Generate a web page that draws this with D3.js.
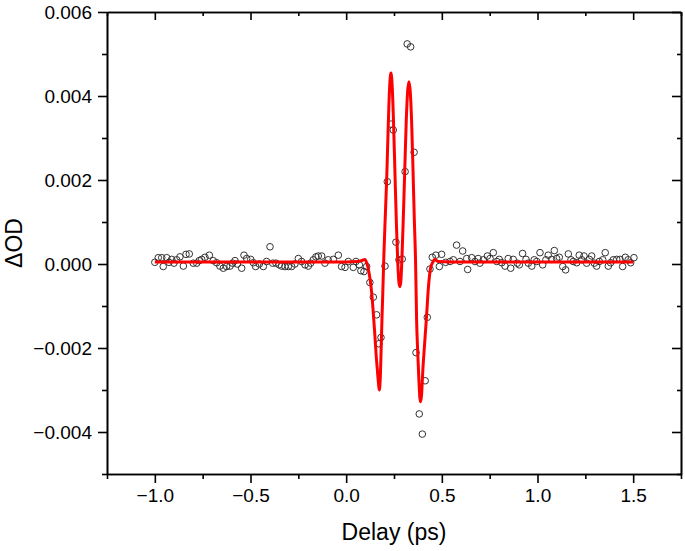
<!DOCTYPE html>
<html>
<head>
<meta charset="utf-8">
<script src="https://cdn.jsdelivr.net/npm/d3@7"></script>
<style>
  body { margin: 0; background: #fff; }
  svg { display: block; }
  .tick text { font-family: "Liberation Sans", Arial, sans-serif; }
</style>
</head>
<body>
<svg id="chart" width="685" height="551"></svg>
<script>
// measured delay points (ps) and dOD values
const delayData = [
  -1.000, -0.982, -0.964, -0.956, -0.938, -0.926, -0.912, -0.900, -0.886, -0.869,
  -0.851, -0.837, -0.820, -0.799, -0.781, -0.768, -0.755, -0.738, -0.715, -0.695,
  -0.677, -0.660, -0.642, -0.625, -0.607, -0.593, -0.581, -0.569, -0.546, -0.534,
  -0.520, -0.499, -0.485, -0.473, -0.454, -0.433, -0.416, -0.398, -0.384, -0.367,
  -0.350, -0.337, -0.320, -0.302, -0.285, -0.268, -0.250, -0.233, -0.215, -0.198,
  -0.186, -0.172, -0.158, -0.146, -0.128, -0.111, -0.094, -0.067, -0.041, -0.024,
  -0.006, 0.011, 0.037, 0.051, 0.069, 0.077, 0.093, 0.107, 0.124, 0.142,
  0.159, 0.171, 0.182, 0.203, 0.215, 0.234, 0.246, 0.260, 0.276, 0.293,
  0.308, 0.319, 0.337, 0.355, 0.365, 0.382, 0.398, 0.413, 0.424, 0.438,
  0.450, 0.469, 0.487, 0.499, 0.520, 0.543, 0.560, 0.577, 0.595, 0.609,
  0.630, 0.635, 0.656, 0.673, 0.690, 0.699, 0.717, 0.738, 0.752, 0.769,
  0.787, 0.800, 0.813, 0.830, 0.847, 0.860, 0.873, 0.894, 0.905, 0.922,
  0.940, 0.952, 0.970, 0.983, 0.996, 1.013, 1.027, 1.044, 1.056, 1.074,
  1.088, 1.100, 1.114, 1.132, 1.147, 1.161, 1.175, 1.187, 1.205, 1.218,
  1.231, 1.243, 1.257, 1.271, 1.283, 1.297, 1.309, 1.323, 1.341, 1.354,
  1.370, 1.382, 1.396, 1.414, 1.431, 1.445, 1.459, 1.474, 1.487, 1.504
];
const odData = [
  0.00004, 0.00015, 0.00015, -0.00006, 0.00015, 0.00004, 0.00011, 0.00002, 0.00010, 0.00017,
  -0.00005, 0.00023, 0.00024, 0.00002, 0.00002, 0.00008, 0.00011, 0.00016, 0.00021, 0.00008,
  0.00003, -0.00005, -0.00010, -0.00006, -0.00005, 0.00002, 0.00008, 0.00000, -0.00010, 0.00021,
  0.00013, 0.00011, 0.00003, -0.00006, 0.00000, -0.00006, 0.00006, 0.00041, 0.00002, 0.00002,
  -0.00002, -0.00005, -0.00006, -0.00006, -0.00006, 0.00000, 0.00013, 0.00006, -0.00002, -0.00005,
  0.00002, 0.00010, 0.00017, 0.00019, 0.00019, 0.00002, 0.00010, 0.00011, 0.00021, -0.00006,
  -0.00008, 0.00006, -0.00008, 0.00006, -0.00002, -0.00016, -0.00018, -0.00006, -0.00044, -0.00079,
  -0.00121, -0.00190, -0.00175, -0.00005, 0.00196, 0.00333, 0.00319, 0.00052, 0.00010, 0.00012,
  0.00220, 0.00524, 0.00517, 0.00266, -0.00211, -0.00357, -0.00405, -0.00278, -0.00127, -0.00012,
  0.00016, 0.00021, -0.00006, 0.00023, 0.00004, 0.00006, 0.00010, 0.00045, 0.00006, 0.00031,
  0.00013, -0.00013, 0.00015, 0.00006, 0.00013, 0.00002, 0.00010, 0.00019, 0.00013, 0.00027,
  0.00006, 0.00011, 0.00003, -0.00005, 0.00013, -0.00010, 0.00011, 0.00002, -0.00002, 0.00025,
  0.00011, 0.00002, -0.00005, 0.00010, 0.00006, 0.00027, -0.00002, 0.00010, 0.00021, 0.00011,
  0.00032, 0.00013, 0.00016, -0.00006, -0.00014, 0.00024, 0.00010, 0.00006, 0.00003, 0.00021,
  0.00010, 0.00019, 0.00002, 0.00011, 0.00019, 0.00002, -0.00005, 0.00006, 0.00010, 0.00027,
  -0.00005, 0.00003, 0.00010, 0.00011, 0.00011, -0.00006, 0.00016, 0.00010, 0.00003, 0.00015
];

// fit curve
const fitDelay = [
  -1.000, -0.500, 0.000, 0.060, 0.085, 0.098, 0.108, 0.120, 0.130, 0.140,
  0.150, 0.158, 0.163, 0.168, 0.173, 0.178, 0.183, 0.187, 0.192, 0.197,
  0.205, 0.212, 0.220, 0.227, 0.234, 0.241, 0.248, 0.256, 0.263, 0.270,
  0.276, 0.281, 0.286, 0.292, 0.298, 0.306, 0.314, 0.321, 0.328, 0.335,
  0.342, 0.349, 0.356, 0.363, 0.368, 0.374, 0.380, 0.385, 0.389, 0.394,
  0.401, 0.410, 0.420, 0.430, 0.441, 0.455, 0.462, 0.480, 0.550, 1.000,
  1.500
];
const fitOD = [
  0.00005, 0.00005, 0.00005, 0.00006, 0.00009, 0.00011, 0.00002, -0.00022, -0.00054, -0.00105,
  -0.00170, -0.00225, -0.00252, -0.00280, -0.00300, -0.00275, -0.00200, -0.00133, -0.00060, 0.00020,
  0.00120, 0.00205, 0.00330, 0.00420, 0.00455, 0.00420, 0.00330, 0.00200, 0.00090, 0.00000,
  -0.00045, -0.00054, -0.00040, 0.00020, 0.00100, 0.00220, 0.00340, 0.00410, 0.00434, 0.00410,
  0.00340, 0.00230, 0.00110, 0.00000, -0.00130, -0.00210, -0.00275, -0.00318, -0.00328, -0.00312,
  -0.00250, -0.00190, -0.00125, -0.00055, -0.00010, 0.00006, 0.00011, 0.00006, 0.00005, 0.00005,
  0.00005
];

const xTicks = [-1.0, -0.5, 0.0, 0.5, 1.0, 1.5];
const yTicks = [-0.004, -0.002, 0.000, 0.002, 0.004, 0.006];
const xMinor = [-1.25, -0.75, -0.25, 0.25, 0.75, 1.25, 1.75];
const yMinor = [-0.005, -0.003, -0.001, 0.001, 0.003, 0.005];

const margin = {top: 12, right: 4, bottom: 77, left: 107};
const width = 685 - margin.left - margin.right;
const height = 551 - margin.top - margin.bottom;
const FONT = '"Liberation Sans", Arial, sans-serif';

const svg = d3.select("#chart");
const g = svg.append("g").attr("transform", `translate(${margin.left},${margin.top})`);

const x = d3.scaleLinear().domain([-1.25, 1.75]).range([0, width]);
const y = d3.scaleLinear().domain([-0.005, 0.006]).range([height, 0]);

// axes: bottom & left outward, top & right inward
function drawAxis(axis, transform, cls) {
  const a = g.append("g").attr("class", cls).attr("transform", transform).call(axis);
  a.select(".domain").attr("stroke", "#000").attr("stroke-width", 1.6);
  a.selectAll(".tick line").attr("stroke", "#000").attr("stroke-width", 1.6);
  return a;
}

const xAxis = drawAxis(
  d3.axisBottom(x).tickValues(xTicks).tickFormat(d3.format(".1f")).tickSizeOuter(0).tickSizeInner(9).tickPadding(6),
  `translate(0,${height})`, "x-axis");
xAxis.selectAll("text").attr("font-size", 19).attr("fill", "#000");

drawAxis(d3.axisBottom(x).tickValues(xMinor).tickFormat("").tickSizeOuter(0).tickSizeInner(5),
  `translate(0,${height})`, "x-minor");

const yAxis = drawAxis(
  d3.axisLeft(y).tickValues(yTicks).tickFormat(d3.format(".3f")).tickSizeOuter(0).tickSizeInner(9).tickPadding(6),
  "translate(0,0)", "y-axis");
yAxis.selectAll("text").attr("font-size", 19).attr("fill", "#000");

drawAxis(d3.axisLeft(y).tickValues(yMinor).tickFormat("").tickSizeOuter(0).tickSizeInner(5),
  "translate(0,0)", "y-minor");

drawAxis(d3.axisTop(x).tickValues(xTicks).tickFormat("").tickSizeOuter(0).tickSizeInner(-8),
  "translate(0,0)", "x-top");
drawAxis(d3.axisTop(x).tickValues(xMinor).tickFormat("").tickSizeOuter(0).tickSizeInner(-4),
  "translate(0,0)", "x-top-minor");
drawAxis(d3.axisRight(y).tickValues(yTicks).tickFormat("").tickSizeOuter(0).tickSizeInner(-9),
  `translate(${width},0)`, "y-right");
drawAxis(d3.axisRight(y).tickValues(yMinor).tickFormat("").tickSizeOuter(0).tickSizeInner(-4),
  `translate(${width},0)`, "y-right-minor");

// data circles
const points = delayData.map((d, i) => ({t: d, v: odData[i]}));
g.append("g").selectAll("circle")
  .data(points)
  .enter().append("circle")
  .attr("cx", d => x(d.t))
  .attr("cy", d => y(d.v))
  .attr("r", 3.3)
  .attr("fill", "none")
  .attr("stroke", "#333")
  .attr("stroke-width", 1);

// fit line
const fit = fitDelay.map((d, i) => ({t: d, v: fitOD[i]}));
const line = d3.line()
  .x(d => x(d.t))
  .y(d => y(d.v))
  .curve(d3.curveMonotoneX);

g.append("path")
  .datum(fit)
  .attr("d", line)
  .attr("fill", "none")
  .attr("stroke", "#ff0000")
  .attr("stroke-width", 3)
  .attr("stroke-linejoin", "round");

// axis titles
svg.append("text")
  .attr("x", margin.left + width / 2)
  .attr("y", 540)
  .attr("text-anchor", "middle")
  .attr("font-family", FONT)
  .attr("font-size", 23)
  .text("Delay (ps)");

svg.append("text")
  .attr("transform", `translate(22,${margin.top + height / 2}) rotate(-90)`)
  .attr("text-anchor", "middle")
  .attr("font-family", FONT)
  .attr("font-size", 23)
  .text("ΔOD");
</script>
</body>
</html>
